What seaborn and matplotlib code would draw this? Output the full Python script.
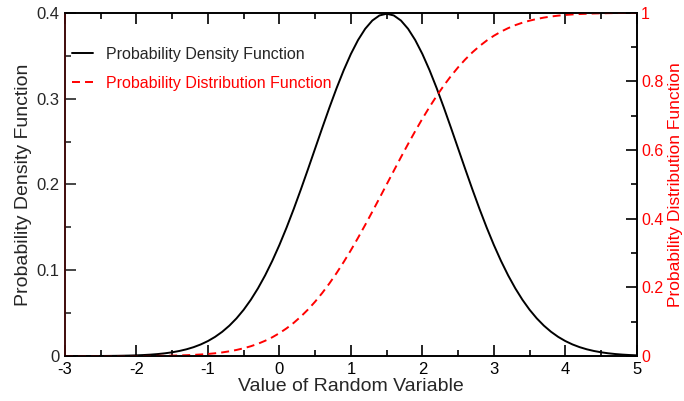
import matplotlib
matplotlib.use("Agg")
import matplotlib.pyplot as plt
import seaborn as sns
import pandas as pd
from matplotlib.ticker import MultipleLocator

x_vals = [-3.0, -2.9, -2.8, -2.7, -2.6, -2.5, -2.4, -2.3, -2.2, -2.1,
          -2.0, -1.9, -1.8, -1.7, -1.6, -1.5, -1.4, -1.3, -1.2, -1.1,
          -1.0, -0.9, -0.8, -0.7, -0.6, -0.5, -0.4, -0.3, -0.2, -0.1,
          0.0, 0.1, 0.2, 0.3, 0.4, 0.5, 0.6, 0.7, 0.8, 0.9,
          1.0, 1.1, 1.2, 1.3, 1.4, 1.5, 1.6, 1.7, 1.8, 1.9,
          2.0, 2.1, 2.2, 2.3, 2.4, 2.5, 2.6, 2.7, 2.8, 2.9,
          3.0, 3.1, 3.2, 3.3, 3.4, 3.5, 3.6, 3.7, 3.8, 3.9,
          4.0, 4.1, 4.2, 4.3, 4.4, 4.5, 4.6, 4.7, 4.8, 4.9, 5.0]
pdf_vals = [0.000016, 0.000025, 0.000039, 0.000059, 0.000089, 0.000134, 0.000199, 0.000292, 0.000425, 0.000612,
            0.000873, 0.001232, 0.001723, 0.002384, 0.003267, 0.004432, 0.005953, 0.007915, 0.010421, 0.013583,
            0.017528, 0.022395, 0.028327, 0.035475, 0.043984, 0.053991, 0.065616, 0.078950, 0.094049, 0.110921,
            0.129518, 0.149727, 0.171369, 0.194186, 0.217852, 0.241971, 0.266085, 0.289692, 0.312254, 0.333225,
            0.352065, 0.368270, 0.381388, 0.391043, 0.396953, 0.398942, 0.396953, 0.391043, 0.381388, 0.368270,
            0.352065, 0.333225, 0.312254, 0.289692, 0.266085, 0.241971, 0.217852, 0.194186, 0.171369, 0.149727,
            0.129518, 0.110921, 0.094049, 0.078950, 0.065616, 0.053991, 0.043984, 0.035475, 0.028327, 0.022395,
            0.017528, 0.013583, 0.010421, 0.007915, 0.005953, 0.004432, 0.003267, 0.002384, 0.001723, 0.001232,
            0.000873]
cdf_vals = [0.000003, 0.00001, 0.00001, 0.00001, 0.00002, 0.00003, 0.00005, 0.00007, 0.00011, 0.00016,
            0.00023, 0.00034, 0.00048, 0.00069, 0.00097, 0.00135, 0.0019, 0.0026, 0.0035, 0.0047,
            0.0062, 0.0082, 0.0107, 0.0139, 0.0179, 0.0228, 0.0287, 0.0359, 0.0446, 0.0548,
            0.0668, 0.0808, 0.0968, 0.1151, 0.1357, 0.1587, 0.1841, 0.2119, 0.2420, 0.2743,
            0.3085, 0.3446, 0.3821, 0.4207, 0.4602, 0.5000, 0.5398, 0.5793, 0.6179, 0.6554,
            0.6915, 0.7257, 0.7580, 0.7881, 0.8159, 0.8413, 0.8643, 0.8849, 0.9032, 0.9192,
            0.9332, 0.9452, 0.9554, 0.9641, 0.9713, 0.9772, 0.9821, 0.9861, 0.9893, 0.9918,
            0.9938, 0.9953, 0.9965, 0.9974, 0.9981, 0.99865, 0.99903, 0.99931, 0.99952, 0.99966,
            0.99977]

x_ticks = [-3, -2, -1, 0, 1, 2, 3, 4, 5]
x_ticklabels = ["-3", "-2", "-1", "0", "1", "2", "3", "4", "5"]
left_ticks = [0, 0.1, 0.2, 0.3, 0.4]
left_ticklabels = ["0", "0.1", "0.2", "0.3", "0.4"]
right_ticks = [0, 0.2, 0.4, 0.6, 0.8, 1.0]
right_ticklabels = ["0", "0.2", "0.4", "0.6", "0.8", "1"]

df = pd.DataFrame({"x": x_vals, "pdf": pdf_vals, "cdf": cdf_vals})

sns.set_style("ticks")
plt.rcParams["font.family"] = ["Liberation Sans", "DejaVu Sans"]

fig = plt.figure(figsize=(6.84, 4.01), dpi=100)
ax = fig.add_axes([0.095, 0.112, 0.836, 0.856])
ax2 = ax.twinx()

sns.lineplot(data=df, x="x", y="pdf", ax=ax, color="black", lw=1.4,
             label="Probability Density Function", legend=False)
sns.lineplot(data=df, x="x", y="cdf", ax=ax2, color="red", lw=1.4,
             label="Probability Distribution Function", legend=False)
ax2.lines[0].set_dashes([4.1, 2.6])

ax.set_xlim(-3, 5)
ax.set_ylim(0, 0.4)
ax2.set_ylim(0, 1)

ax.set_xticks(x_ticks)
ax.set_xticklabels(x_ticklabels)
ax.set_yticks(left_ticks)
ax.set_yticklabels(left_ticklabels)
ax2.set_yticks(right_ticks)
ax2.set_yticklabels(right_ticklabels)
ax.xaxis.set_minor_locator(MultipleLocator(0.5))
ax.yaxis.set_minor_locator(MultipleLocator(0.05))
ax2.yaxis.set_minor_locator(MultipleLocator(0.1))

ax.tick_params(axis="x", which="both", direction="in", top=True, bottom=True,
               labelsize=12, pad=4, colors="black", width=1.2)
ax.tick_params(axis="x", which="major", length=8)
ax.tick_params(axis="x", which="minor", length=4)
ax.tick_params(axis="y", which="both", direction="in", left=True, right=False,
               labelsize=12, pad=4, width=1.2)
ax.tick_params(axis="y", which="major", length=8)
ax.tick_params(axis="y", which="minor", length=4)
ax2.tick_params(axis="y", which="both", direction="in", right=True, left=False,
                labelsize=11.5, pad=3, labelcolor="red", color="black", width=1.2)
ax2.tick_params(axis="y", which="major", length=8)
ax2.tick_params(axis="y", which="minor", length=4)

for a in (ax, ax2):
    for s in a.spines.values():
        s.set_visible(True)
        s.set_linewidth(1.2)
        s.set_color("black")
ax2.spines["left"].set_color("#4a0c0c")

ax.set_xlabel("Value of Random Variable", fontsize=14, labelpad=1)
ax.set_ylabel("Probability Density Function", fontsize=14, labelpad=3)
ax2.set_ylabel("Probability Distribution Function", fontsize=12.5, color="red")
ax2.yaxis.set_label_coords(1.0542, 0.5)

h1, l1 = ax.get_legend_handles_labels()
h2, l2 = ax2.get_legend_handles_labels()
leg = fig.legend(h1 + h2, l1 + l2, loc="upper left", frameon=False, fontsize=11.5,
                 handlelength=1.3, handletextpad=0.8, labelspacing=0.85,
                 borderpad=0, borderaxespad=0,
                 bbox_to_anchor=(72 / 684, 1 - 47 / 401))
leg.get_texts()[1].set_color("red")

fig.savefig("out.png", dpi=100)
